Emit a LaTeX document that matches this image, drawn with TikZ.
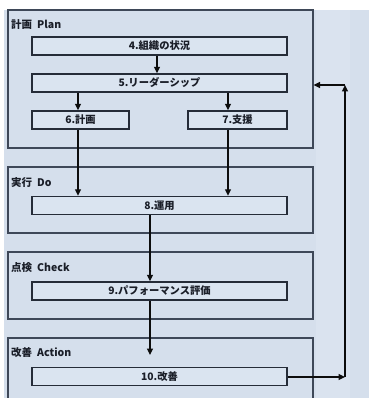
\documentclass[tikz,border=0pt]{standalone}
\usepackage{fontspec}
\newfontfamily\jp{Noto Sans CJK JP}
\usetikzlibrary{arrows.meta}
\definecolor{bg}{HTML}{D5DFEC}
\definecolor{bgcol}{HTML}{DAE3EF}
\definecolor{boxfill}{HTML}{DAE4F0}
\definecolor{grpline}{HTML}{3E4858}
\definecolor{boxline}{HTML}{252C38}
\definecolor{txt}{HTML}{1A1E28}
\begin{document}
\begin{tikzpicture}[x=1pt,y=-1pt,
  group/.style={draw=grpline,line width=1.1pt,inner sep=0pt,minimum width=305pt},
  item/.style={draw=boxline,line width=1.4pt,fill=boxfill,minimum height=18pt,inner sep=0pt,text=txt,
    font=\jp\bfseries\fontsize{10.3}{11}\selectfont},
  arr/.style={-{Triangle[length=6.5pt,width=6pt]},line width=1.2pt,draw=black!95},
  lbl/.style={anchor=west,text=txt,font=\jp\bfseries\fontsize{10.5}{11}\selectfont,inner sep=0pt}]
\clip (0,0) rectangle (369,398);
\fill[white] (0,0) rectangle (369,398);
\fill[bg] (4,10) rectangle (369,398);
\fill[bgcol] (316,10) rectangle (350,398);
% groups
\node[group,minimum height=138pt] (plan) at (160.5,79) {};
\node[group,minimum height=66pt] (do) at (160.5,200) {};
\node[group,minimum height=67pt] (check) at (160.5,285.5) {};
\node[group,minimum height=70pt] (act) at (160.5,373) {};
\node[lbl] (lplan) at (11,25) {計画\hspace{5pt}Plan};
\node[lbl] (ldo) at (11,183) {実行\hspace{5pt}Do};
\node[lbl] (lcheck) at (11,268) {点検\hspace{5pt}Check};
\node[lbl] (lact) at (11,353) {改善\hspace{5pt}Action};
% items
\node[item,minimum width=255pt] (n4) at (159.5,46) {4.組織の状況};
\node[item,minimum width=255pt] (n5) at (159.5,83) {5.リーダーシップ};
\node[item,minimum width=97pt] (n6) at (80.5,120) {6.計画};
\node[item,minimum width=99pt] (n7) at (237.5,120) {7.支援};
\node[item,minimum width=255pt] (n8) at (159.5,205.5) {8.運用};
\node[item,minimum width=255pt] (n9) at (159.5,291) {9.パフォーマンス評価};
\node[item,minimum width=255pt] (n10) at (159.5,376.5) {10.改善};
% columns
\coordinate (c4) at (157,0);
\coordinate (c6) at (78,0);
\coordinate (c7) at (228,0);
\coordinate (c8) at (150,0);
\coordinate (e9) at (150,355);
\coordinate (fbot) at (345,377);
\coordinate (ftop) at (345,85);
% arrows
\draw[arr] (n4.south -| c4) -- (n5.north -| c4);
\draw[arr] (n5.south -| c6) -- (n6.north -| c6);
\draw[arr] (n5.south -| c7) -- (n7.north -| c7);
\draw[arr] (n6.south -| c6) -- (n8.north -| c6);
\draw[arr] (n7.south -| c7) -- (n8.north -| c7);
\draw[arr] (n8.south -| c8) -- (n9.north -| c8);
\draw[arr] (n9.south -| c8) -- (e9);
\draw[arr] (n10.east |- fbot) -- (fbot);
\draw[arr,line width=1.5pt] (fbot) -- (ftop);
\draw[arr] (ftop) -- (ftop -| plan.east);
\end{tikzpicture}
\end{document}
